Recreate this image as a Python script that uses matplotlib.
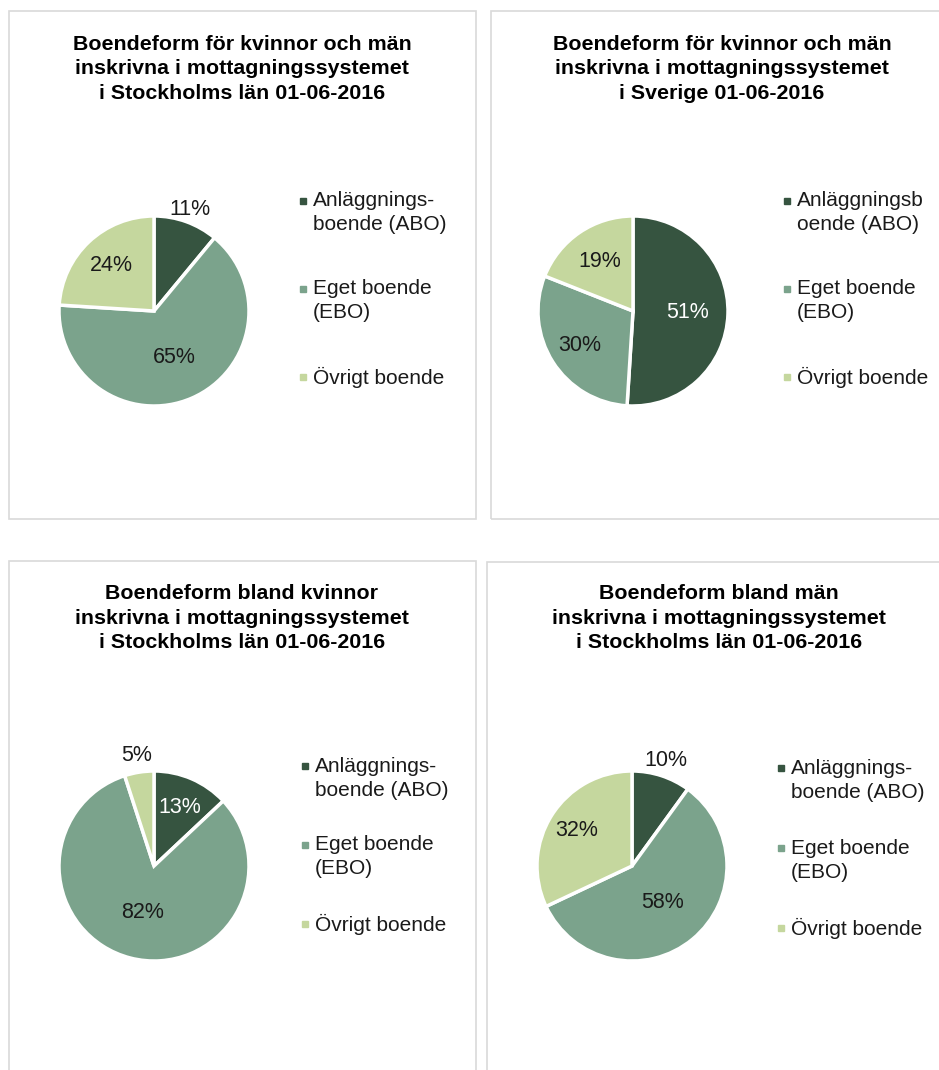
import numpy as np
import matplotlib.pyplot as plt
from matplotlib.patches import Rectangle

plt.rcParams['font.family'] = ['Liberation Sans', 'DejaVu Sans']

W, H = 939, 1070

categories = ['Anläggningsboende (ABO)', 'Eget boende (EBO)', 'Övrigt boende']
colors = ['#365440', '#7BA38C', '#C5D79E']

titles = [
    'Boendeform för kvinnor och män\ninskrivna i mottagningssystemet\ni Stockholms län 01-06-2016',
    'Boendeform för kvinnor och män\ninskrivna i mottagningssystemet\ni Sverige 01-06-2016',
    'Boendeform bland kvinnor\ninskrivna i mottagningssystemet\ni Stockholms län 01-06-2016',
    'Boendeform bland män\ninskrivna i mottagningssystemet\ni Stockholms län 01-06-2016',
]
stockholm_total = [11, 65, 24]
sverige_total = [51, 30, 19]
stockholm_kvinnor = [13, 82, 5]
stockholm_man = [10, 58, 32]
values = [stockholm_total, sverige_total, stockholm_kvinnor, stockholm_man]

legend_labels = [
    ['Anläggnings-\nboende (ABO)', 'Eget boende\n(EBO)', 'Övrigt boende'],
    ['Anläggningsb\noende (ABO)', 'Eget boende\n(EBO)', 'Övrigt boende'],
    ['Anläggnings-\nboende (ABO)', 'Eget boende\n(EBO)', 'Övrigt boende'],
    ['Anläggnings-\nboende (ABO)', 'Eget boende\n(EBO)', 'Övrigt boende'],
]

# layout (pixels)
panels = [(9, 11, 467, 508), (491, 11, 460, 508), (9, 561, 467, 520), (487, 562, 470, 520)]
title_pos = [(242, 69), (722, 69), (242, 618), (719, 618)]
centers = [(154, 311), (633, 311), (154, 866), (632, 866)]
radius = 95
legend_pos = [(303, 201, 88), (787, 201, 88), (305, 766, 79), (781, 768, 80)]
label_dist = [[1.13, 0.53, 0.66], [0.57, 0.67, 0.63], [0.67, 0.5, 1.18], [1.17, 0.5, 0.69]]


def fx(x):
    return x / W


def fy(y):
    return 1 - y / H


fig = plt.figure(figsize=(W / 100, H / 100), dpi=100)

for i in range(4):
    px, py, pw, ph = panels[i]
    fig.patches.append(Rectangle((fx(px), fy(py + ph)), pw / W, ph / H,
                                 transform=fig.transFigure, fill=False,
                                 edgecolor='#D9D9D9', linewidth=1.2))
    tx, ty = title_pos[i]
    fig.text(fx(tx), fy(ty), titles[i], ha='center', va='center', fontsize=15.4,
             fontweight='bold', linespacing=1.37)

    cx, cy = centers[i]
    ax = fig.add_axes([fx(cx - radius), fy(cy + radius), 2 * radius / W, 2 * radius / H])
    vals = values[i]
    wedges, _ = ax.pie(vals, colors=colors, startangle=90, counterclock=False,
                       wedgeprops=dict(edgecolor='white', linewidth=2.5))
    ax.set_xlim(-1, 1)
    ax.set_ylim(-1, 1)
    ax.set_aspect('equal')

    total = float(sum(vals))
    start = 90.0
    for j, v in enumerate(vals):
        span = 360.0 * v / total
        mid = np.deg2rad(start - span / 2)
        start -= span
        d = label_dist[i][j]
        tc = 'white' if (j == 0 and d < 1) else '#1a1a1a'
        ax.text(d * np.cos(mid), d * np.sin(mid), f'{v}%', ha='center', va='center',
                fontsize=15.5, color=tc, clip_on=False)

    mx, my, step = legend_pos[i]
    for j, lab in enumerate(legend_labels[i]):
        y0 = my + j * step
        fig.patches.append(Rectangle((fx(mx - 3), fy(y0 + 3)), 6 / W, 6 / H,
                                     transform=fig.transFigure, color=colors[j]))
        for k, line in enumerate(lab.split('\n')):
            fig.text(fx(mx + 10), fy(y0 + k * 24), line, ha='left', va='center',
                     fontsize=15, color='#1a1a1a')

fig.savefig('out.png', dpi=100, facecolor='white')
